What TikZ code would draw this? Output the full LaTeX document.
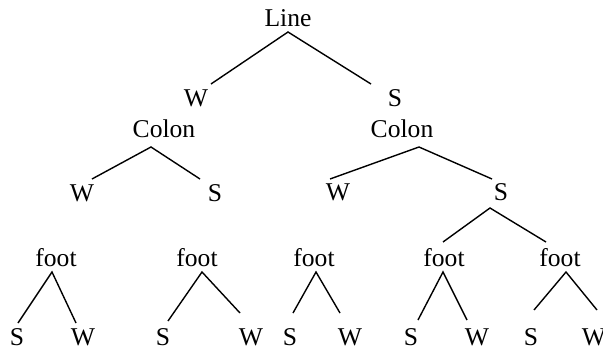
\documentclass[tikz,border=0pt]{standalone}
\usepackage{fontspec}
\setmainfont{Liberation Serif}

\begin{document}
\begin{tikzpicture}[x=1pt, y=-1pt,
	lbl/.style={inner sep=0pt, anchor=base, font=\fontsize{25.6}{30}\selectfont},
	arm/.style={line width=1.4pt}]
	\useasboundingbox (0,0) rectangle (603,351);
	
	% Nút phía trên
	\node[lbl] (line) at (288,26) {Line};
	\node[lbl] (w1) at (196,106) {W};
	\node[lbl] (s1) at (395,106) {S};
	\node[lbl] (colonL) at (164,137) {Colon};
	\node[lbl] (colonR) at (402,137) {Colon};
	\node[lbl] (w2) at (82,201) {W};
	\node[lbl] (s2) at (215,201) {S};
	\node[lbl] (w3) at (338,200) {W};
	\node[lbl] (s3) at (501,200) {S};
	
	% Nhánh của Line và Colon
	\draw[arm] ([xshift=15pt,yshift=22pt]w1.base) -- ([yshift=-6pt]line.base) -- ([xshift=-24pt,yshift=22pt]s1.base);
	\draw[arm] ([xshift=10pt,yshift=22pt]w2.base) -- ([xshift=-13pt,yshift=-10pt]colonL.base) -- ([xshift=-15pt,yshift=22pt]s2.base);
	\draw[arm] ([xshift=-8pt,yshift=21pt]w3.base) -- ([xshift=17pt,yshift=-10pt]colonR.base) -- ([xshift=-9pt,yshift=21pt]s3.base);
	
	% Hàng foot và hàng S W cuối
	\foreach \k/\fx/\sx/\wx in {1/56/17/83, 2/197/163/251, 3/314/290/350, 4/444/411/477, 5/560/531/594} {
		\node[lbl] (foot\k) at (\fx,266) {foot};
		\node[lbl] (fs\k) at (\sx,345) {S};
		\node[lbl] (fw\k) at (\wx,345) {W};
	}
	
	% S bên phải tách thành hai foot
	\draw[arm] ([xshift=-1pt,yshift=24pt]foot4.base) -- ([xshift=-11pt,yshift=-8pt]s3.base) -- ([xshift=-14pt,yshift=24pt]foot5.base);
	
	% Nhánh của từng foot
	\foreach \k/\ap/\dsx/\dsy/\dwx/\dwy in {1/-4/1/22/-7/22, 2/5/5/24/-11/32, 3/2/3/32/-10/32, 4/-1/7/25/-10/25, 5/6/3/35/3/35} {
		\draw[arm] ([xshift=\dsx pt,yshift=\dsy pt]fs\k.base) -- ([xshift=\ap pt,yshift=-6pt]foot\k.base) -- ([xshift=\dwx pt,yshift=\dwy pt]fw\k.base);
	}
	
\end{tikzpicture}
\end{document}
